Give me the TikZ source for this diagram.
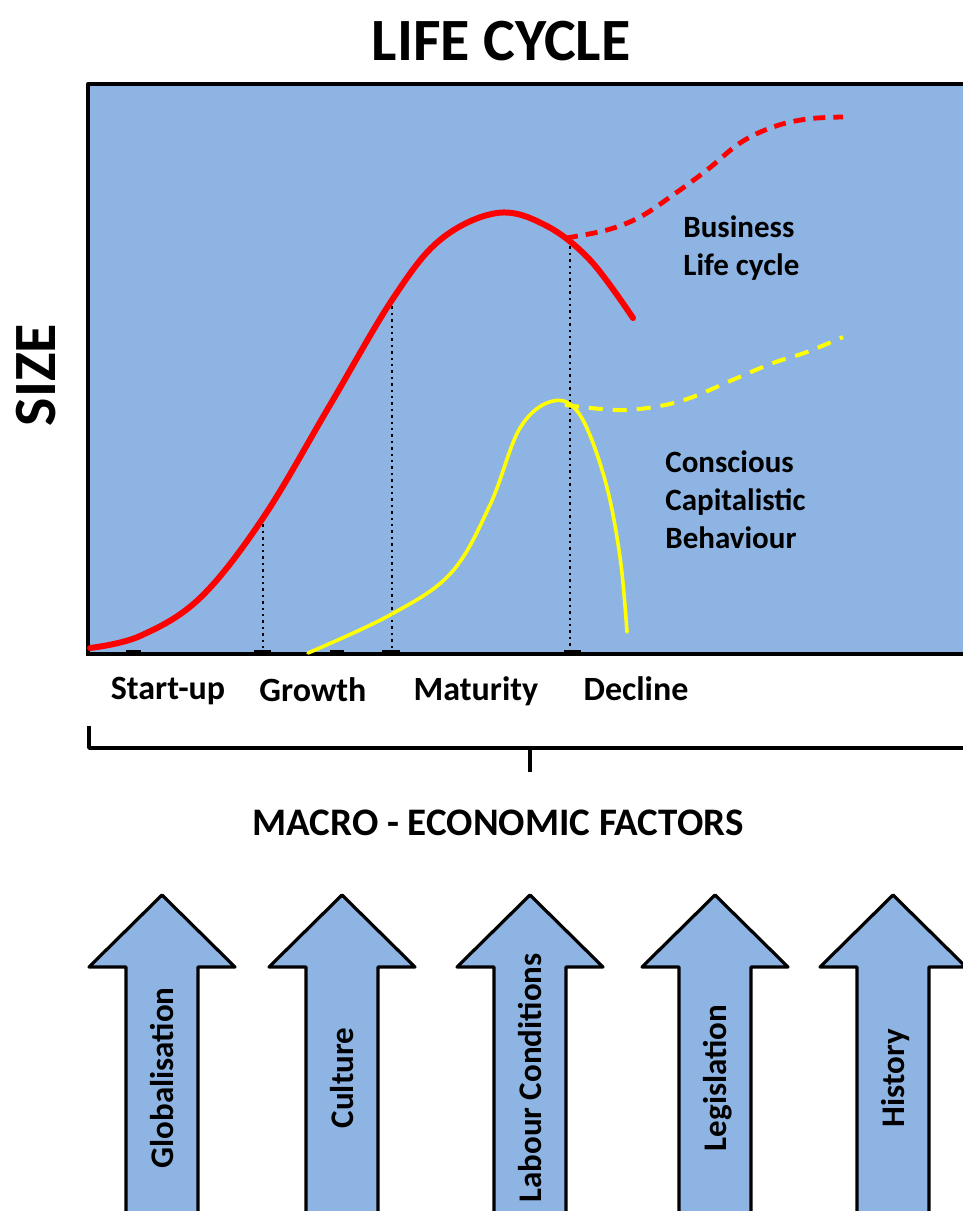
\documentclass[tikz,border=0pt]{standalone}
\usepackage{fontspec}
\setmainfont{Carlito}
\usetikzlibrary{positioning}
\definecolor{chartblue}{RGB}{142,180,227}
\definecolor{curvered}{RGB}{255,0,0}
\definecolor{curveyellow}{RGB}{255,255,0}

\begin{document}
\begin{tikzpicture}[line join=round,x=0.5pt,y=-0.5pt,
  phase/.style={font=\bfseries\fontsize{17}{20}\selectfont,anchor=base},
  curvelbl/.style={font=\bfseries\fontsize{15.5}{19}\selectfont,align=left,anchor=north west,inner sep=0pt},
  factor/.style={font=\bfseries\fontsize{16.5}{20}\selectfont,rotate=90,anchor=base}]
\useasboundingbox (0,0) rectangle (963,1211);
\clip (0,0) rectangle (963,1211);

% chart area
\fill[chartblue] (88,84) rectangle (980,654);
\draw[line width=2pt] (88,654) -- (88,84) -- (980,84);
\draw[line width=1.6pt] (86,654) -- (980,654);
\foreach \a/\b in {126/141,254/271,330/344,382/400,564/581}
\draw[line width=1.2pt] (\a,651) -- (\b,651);

% phase borders
\draw[black,dotted,line width=1.2pt] (263,518) -- (263,650);
\draw[black,dotted,line width=1.2pt] (392,300) -- (392,650);
\draw[black,dotted,line width=1.2pt] (570,240) -- (570,650);

% business life cycle
\draw[curvered,line width=3pt,line cap=round] plot[smooth,tension=0.6] coordinates {(90,648) (140,636) (200,598) (263,518) (330,405) (392,300) (440,240) (497,213) (545,225) (590,260) (633,318)};
\draw[curvered,line width=2.4pt,dash pattern=on 6pt off 4pt] plot[smooth,tension=0.6] coordinates {(566,238) (607,230) (640,217) (673,195) (707,170) (740,143) (773,127) (807,119) (843,117)};

% conscious capitalistic behaviour
\draw[curveyellow,line width=1.8pt,line cap=round] plot[smooth,tension=0.6] coordinates {(308,653) (390,615) (451,573) (490,505) (520,428) (553,401) (580,415) (605,480) (620,557) (627,632)};
\draw[curveyellow,line width=2pt,dash pattern=on 7pt off 5pt] plot[smooth,tension=0.6] coordinates {(565,405) (616,410) (654,407) (690,398) (737,378) (773,363) (807,352) (843,337)};

\node[curvelbl] (business) at (683,215) {Business\\Life cycle};
\node[curvelbl] (conscious) at (665,450) {Conscious\\Capitalistic\\Behaviour};

% titles
\node[font=\bfseries\fontsize{30}{34}\selectfont,anchor=base] (title) at (501,60) {LIFE CYCLE};
\node[font=\bfseries\fontsize{30}{34}\selectfont,rotate=90,anchor=base] (size) at (55,375) {SIZE};

\node[phase] (startup) at (168,699) {Start-up};
\node[phase] (growth) at (313,701) {Growth};
\node[phase] (maturity) at (476,700) {Maturity};
\node[phase] (decline) at (636,700) {Decline};

% bracket
\draw[line width=1.8pt] (89,726) -- (89,748) -- (980,748);
\draw[line width=2pt] (530,748) -- (530,772);

\node[font=\bfseries\fontsize{19.5}{22}\selectfont,anchor=base] (macro) at (498,835) {MACRO - ECONOMIC FACTORS};

% factor arrows
\foreach \x/\txt/\nm in {162/Globalisation/glob,342/Culture/cult,530/Labour Conditions/labour,715/Legislation/legis,893/History/hist}{
\draw[fill=chartblue,line width=1.6pt] (\x-36,1230) -- (\x-36,967) -- (\x-73,967) -- (\x,895) -- (\x+73,967) -- (\x+36,967) -- (\x+36,1230);
\node[factor] (\nm) at (\x+11,1078) {\txt};
}
\end{tikzpicture}
\end{document}
